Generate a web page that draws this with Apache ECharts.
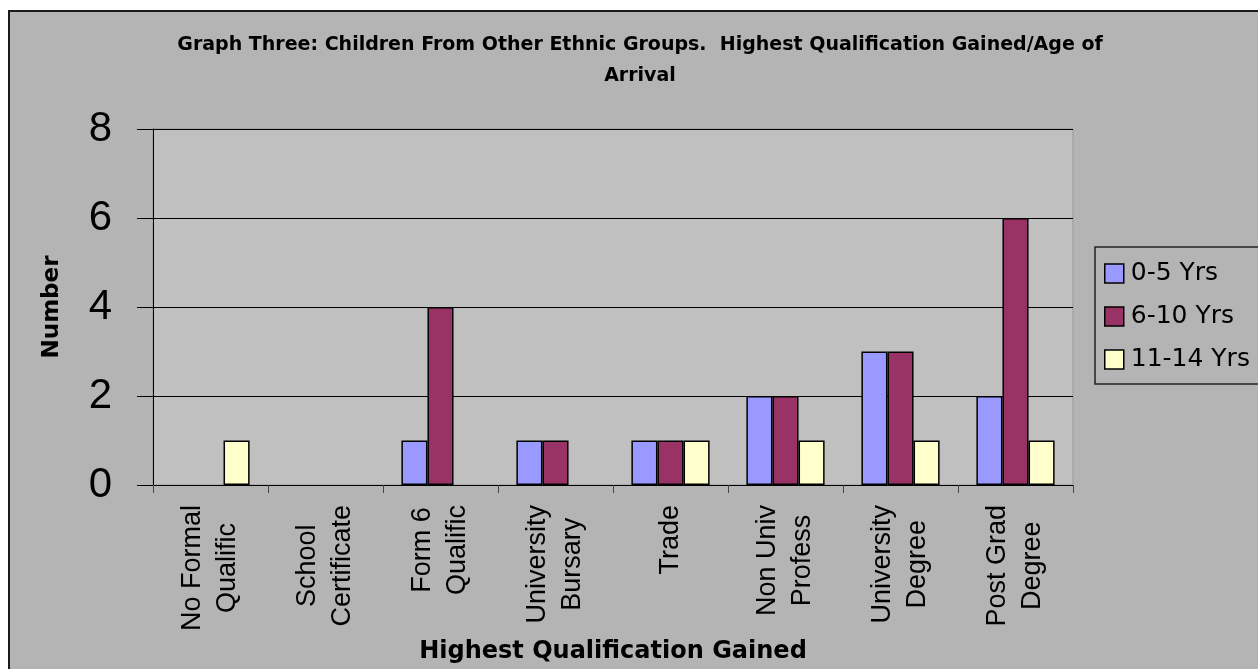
<!DOCTYPE html>
<html>
<head>
<meta charset="utf-8">
<script src="https://cdn.jsdelivr.net/npm/echarts@6/dist/echarts.min.js"></script>
<style>
html,body{margin:0;padding:0;background:#fff;}
#chart{width:1258px;height:669px;}
</style>
</head>
<body>
<div id="chart"></div>
<script>
var titleText = 'Graph Three: Children From Other Ethnic Groups.  Highest Qualification Gained/Age of\nArrival';
var categories = ['No Formal\nQualific', 'School\nCertificate', 'Form 6\nQualific', 'University\nBursary', 'Trade', 'Non Univ\nProfess', 'University\nDegree', 'Post Grad\nDegree'];
var seriesNames = ['0-5 Yrs', '6-10 Yrs', '11-14 Yrs'];
var yrs0to5 = [0, 0, 1, 1, 1, 2, 3, 2];
var yrs6to10 = [0, 0, 4, 1, 1, 2, 3, 6];
var yrs11to14 = [1, 0, 0, 0, 1, 1, 1, 1];
var yTicks = [0, 2, 4, 6, 8];
var colors = ['#9999FF', '#993366', '#FFFFCC'];

var chart = echarts.init(document.getElementById('chart'), null, {renderer: 'canvas'});
var seriesData = [yrs0to5, yrs6to10, yrs11to14];

function toItems(arr) {
  return arr.map(function (v) {
    return v === 0 ? {value: v, itemStyle: {borderWidth: 0}} : v;
  });
}

var option = {
  backgroundColor: '#ffffff',
  animation: false,
  graphic: [{
    type: 'rect', silent: true, z: -100,
    shape: {x: 9, y: 11, width: 1262, height: 672},
    style: {fill: '#B4B4B4', stroke: '#1a1a1a', lineWidth: 2}
  }],
  title: {
    text: titleText,
    left: 640, top: 30, padding: 0,
    textAlign: 'center',
    textStyle: {fontFamily: 'DejaVu Sans', fontWeight: 'bold', fontSize: 19, lineHeight: 31, color: '#000'}
  },
  legend: {
    orient: 'vertical',
    left: 1095, top: 247,
    padding: [14, 40, 12, 9],
    itemWidth: 19, itemHeight: 19, itemGap: 18,
    icon: 'rect',
    borderColor: '#222', borderWidth: 1.5,
    backgroundColor: '#B4B4B4',
    itemStyle: {borderColor: '#000', borderWidth: 1.5},
    textStyle: {fontFamily: 'DejaVu Sans', fontSize: 25, color: '#000', padding: [0, 0, 0, 2]},
    data: seriesNames
  },
  grid: {
    left: 153, right: 185, top: 129, bottom: 184,
    show: true, backgroundColor: '#C0C0C0', borderColor: '#999', borderWidth: 1,
    containLabel: false
  },
  xAxis: {
    type: 'category',
    data: categories,
    name: 'Highest Qualification Gained',
    nameLocation: 'middle',
    nameGap: 155,
    nameTextStyle: {fontFamily: 'DejaVu Sans', fontWeight: 'bold', fontSize: 24, color: '#000'},
    axisLine: {lineStyle: {color: '#000', width: 1}},
    axisTick: {show: true, length: 8, lineStyle: {color: '#444'}},
    axisLabel: {
      rotate: 90, margin: 20, interval: 0,
      formatter: function (v) {
        return v.split('\n').map(function (s) { return '{c|' + s + '}'; }).join('\n');
      },
      rich: {c: {fontFamily: 'Liberation Sans', fontSize: 27, lineHeight: 35, align: 'center', color: '#000'}}
    }
  },
  yAxis: {
    type: 'value',
    min: yTicks[0], max: yTicks[yTicks.length - 1], interval: 2,
    name: 'Number',
    nameLocation: 'middle',
    nameGap: 89,
    nameTextStyle: {fontFamily: 'DejaVu Sans', fontWeight: 'bold', fontSize: 23, color: '#000'},
    axisLine: {show: true, lineStyle: {color: '#000', width: 1}},
    axisTick: {show: true, length: 16, lineStyle: {color: '#000'}},
    axisLabel: {margin: 41, fontFamily: 'Liberation Sans', fontSize: 42, color: '#000'},
    splitLine: {show: true, lineStyle: {color: '#000', width: 1}}
  },
  series: seriesNames.map(function (name, i) {
    return {
      name: name,
      type: 'bar',
      data: toItems(seriesData[i]),
      barGap: '0%',
      barCategoryGap: '32%',
      itemStyle: {color: colors[i], borderColor: '#000', borderWidth: 1.5}
    };
  })
};
chart.setOption(option);
</script>
</body>
</html>
